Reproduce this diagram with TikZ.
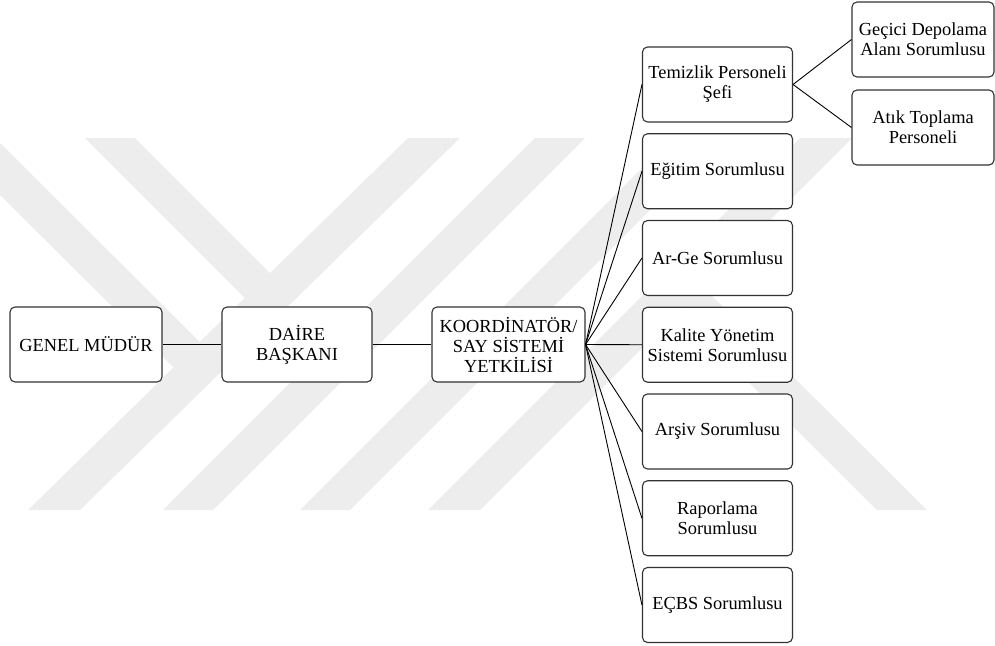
\documentclass[tikz,border=0pt]{standalone}
\usepackage{fontspec}
\setmainfont{Liberation Serif}
\definecolor{logogray}{gray}{0.93}

\begin{document}
\begin{tikzpicture}
        [x=1pt, y=-1pt, every node/.style={draw=black!80, line width=1.1pt, rounded corners=5pt, fill=white, align=center, inner sep=0, minimum width=150pt, minimum height=75pt, font=\fontsize{18.4}{20}\selectfont}, link/.style={line width=0.9pt, black}, logo/.style={fill=logogray}]

        \useasboundingbox (0, 0) rectangle (995, 645);

        \fill[logo] (28, 510) -- (408, 138) -- (460, 138) -- (80, 510) -- cycle;
        \fill[logo] (0, 143) -- (225, 367) -- (173, 367) -- (0, 195) -- cycle;
        \fill[logo] (85, 138) -- (271, 324) -- (271, 274) -- (135, 138) -- cycle;
        \fill[logo] (163, 510) -- (535, 138) -- (585, 138) -- (213, 510) -- cycle;
        \fill[logo] (300, 510) -- (672, 138) -- (722, 138) -- (350, 510) -- cycle;
        \fill[logo] (428, 510) -- (800, 138) -- (852, 138) -- (480, 510) -- cycle;
        \fill[logo] (703, 287) -- (927, 510) -- (877, 510) -- (678, 312) -- cycle;

        \node[minimum width=152pt] (gm) at (86, 344.5) {GENEL MÜDÜR};
        \node (db) at (297, 344.5) {DAİRE\\BAŞKANI};
        \node[minimum width=153pt] (ko) at (508.5, 344.5) {KOORDİNATÖR/\\SAY SİSTEMİ\\YETKİLİSİ};

        \node (s1) at (717.5, 84.5) {Temizlik Personeli\\Şefi};
        \node (s2) at (717.5, 171.25) {Eğitim Sorumlusu};
        \node (s3) at (717.5, 258) {Ar-Ge Sorumlusu};
        \node (s4) at (717.5, 344.75) {Kalite Yönetim\\Sistemi Sorumlusu};
        \node (s5) at (717.5, 431.5) {Arşiv Sorumlusu};
        \node (s6) at (717.5, 518.25) {Raporlama\\Sorumlusu};
        \node (s7) at (717.5, 605) {EÇBS Sorumlusu};

        \node[minimum width=142pt] (p1) at (923, 39.5) {Geçici Depolama\\Alanı Sorumlusu};
        \node[minimum width=142pt] (p2) at (923, 127.5) {Atık Toplama\\Personeli};

        \draw[link] (gm) -- (db);
        \draw[link] (db) -- (ko);
        \draw[link] (ko.east) -- (s1.west);
        \draw[link] (ko.east) -- (s2.west);
        \draw[link] (ko.east) -- (s3.west);
        \draw[link] (ko.east) -- (s4.west);
        \draw[link] (ko.east) -- (s5.west);
        \draw[link] (ko.east) -- (s6.west);
        \draw[link] (ko.east) -- (s7.west);
        \draw[link] (s1.east) -- (p1.west);
        \draw[link] (s1.east) -- (p2.west);
\end{tikzpicture}
\end{document}
